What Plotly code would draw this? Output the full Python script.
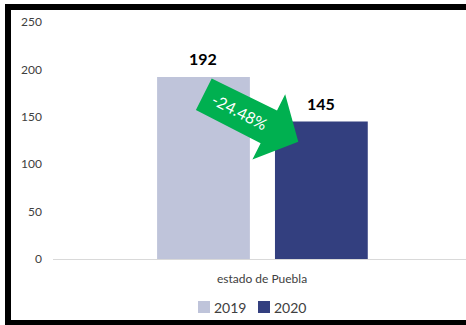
import plotly.graph_objects as go

# ---- data ----
categories = ["estado de Puebla"]
years = ["2019", "2020"]
values_2019 = [192]
values_2020 = [145]
y_ticks = [0, 50, 100, 150, 200, 250]

colors = {"2019": "#BFC4DA", "2020": "#333F7F"}
series = {"2019": values_2019, "2020": values_2020}
offsets = {"2019": -0.251, "2020": 0.031}
bar_w = 0.222

W, H = 466, 325
L, R, T, B = 53, 0, 22, 66
PW, PH = W - L - R, H - T - B

def px(x):
    return (x - L) / PW

def py(y):
    return (H - B - y) / PH

fig = go.Figure()
for yr in years:
    fig.add_trace(go.Bar(
        name=yr, x=categories, y=series[yr],
        marker=dict(color=colors[yr], line=dict(width=0)),
        width=bar_w, offset=offsets[yr], showlegend=False, hoverinfo="skip",
    ))

annotations = []
for yr in years:
    for i, v in enumerate(series[yr]):
        annotations.append(dict(
            x=i + offsets[yr] + bar_w / 2, y=v, xref="x", yref="y",
            text=f"<b>{v}</b>", showarrow=False, yanchor="bottom", yshift=7,
            font=dict(family="Lato", size=16, color="#000000"),
        ))

pct = (values_2020[0] - values_2019[0]) / values_2019[0] * 100
annotations.append(dict(
    x=px(240), y=py(111.5), xref="paper", yref="paper",
    text=f"{pct:.2f}%", showarrow=False, textangle=27,
    font=dict(family="Lato", size=16, color="#FFFFFF"),
))

# green arrow (pixel geometry converted to paper coords)
pts = [(211.7, 78.4), (277.0, 110.6), (285.2, 94.3), (298.3, 141.7),
       (252.4, 159.5), (260.6, 143.2), (195.9, 110.0)]
path = "M " + " L ".join(f"{px(x):.4f},{py(y):.4f}" for x, y in pts) + " Z"

shapes = [
    dict(type="path", path=path, xref="paper", yref="paper",
         fillcolor="#00B050", line=dict(width=0), layer="above"),
    # black frame
    dict(type="rect", xref="paper", yref="paper", x0=px(5), x1=px(466), y0=py(4), y1=py(10),
         fillcolor="#000000", line=dict(width=0), layer="above"),
    dict(type="rect", xref="paper", yref="paper", x0=px(5), x1=px(11), y0=py(4), y1=py(325),
         fillcolor="#000000", line=dict(width=0), layer="above"),
    dict(type="rect", xref="paper", yref="paper", x0=px(11), x1=px(466), y0=py(320), y1=py(325),
         fillcolor="#000000", line=dict(width=0), layer="above"),
]

# legend (drawn as swatches + labels)
legend_x = {"2019": 198, "2020": 258}
for yr in years:
    x0 = legend_x[yr]
    shapes.append(dict(type="rect", xref="paper", yref="paper",
                       x0=px(x0), x1=px(x0 + 12), y0=py(301), y1=py(313),
                       fillcolor=colors[yr], line=dict(width=0)))
    annotations.append(dict(x=px(x0 + 14), y=py(307), xref="paper", yref="paper",
                            text=yr, showarrow=False, xanchor="left", yanchor="middle",
                            font=dict(family="Lato", size=14, color="#404040")))

fig.update_layout(
    width=W, height=H,
    margin=dict(l=L, r=R, t=T, b=B, pad=0),
    paper_bgcolor="#FFFFFF", plot_bgcolor="#FFFFFF",
    barmode="group",
    font=dict(family="Lato", color="#595959"),
    showlegend=False,
    hovermode=False,
    annotations=annotations,
    shapes=shapes,
)
fig.update_xaxes(
    type="category", range=[-0.5, 0.488],
    showline=True, linecolor="#D9D9D9", linewidth=1,
    showgrid=False, ticks="", zeroline=False,
    tickfont=dict(family="Lato", size=12, color="#404040"),
    ticklabelstandoff=9,
)
fig.update_yaxes(
    range=[0, 250], tickvals=y_ticks, showgrid=False, zeroline=False,
    showline=False, ticks="",
    tickfont=dict(family="Lato", size=12, color="#404040"),
    ticklabelstandoff=10,
)

fig.write_html("out.html", config={"displayModeBar": False},
               post_script="document.body.style.margin='0px';document.body.style.overflow='hidden';")
